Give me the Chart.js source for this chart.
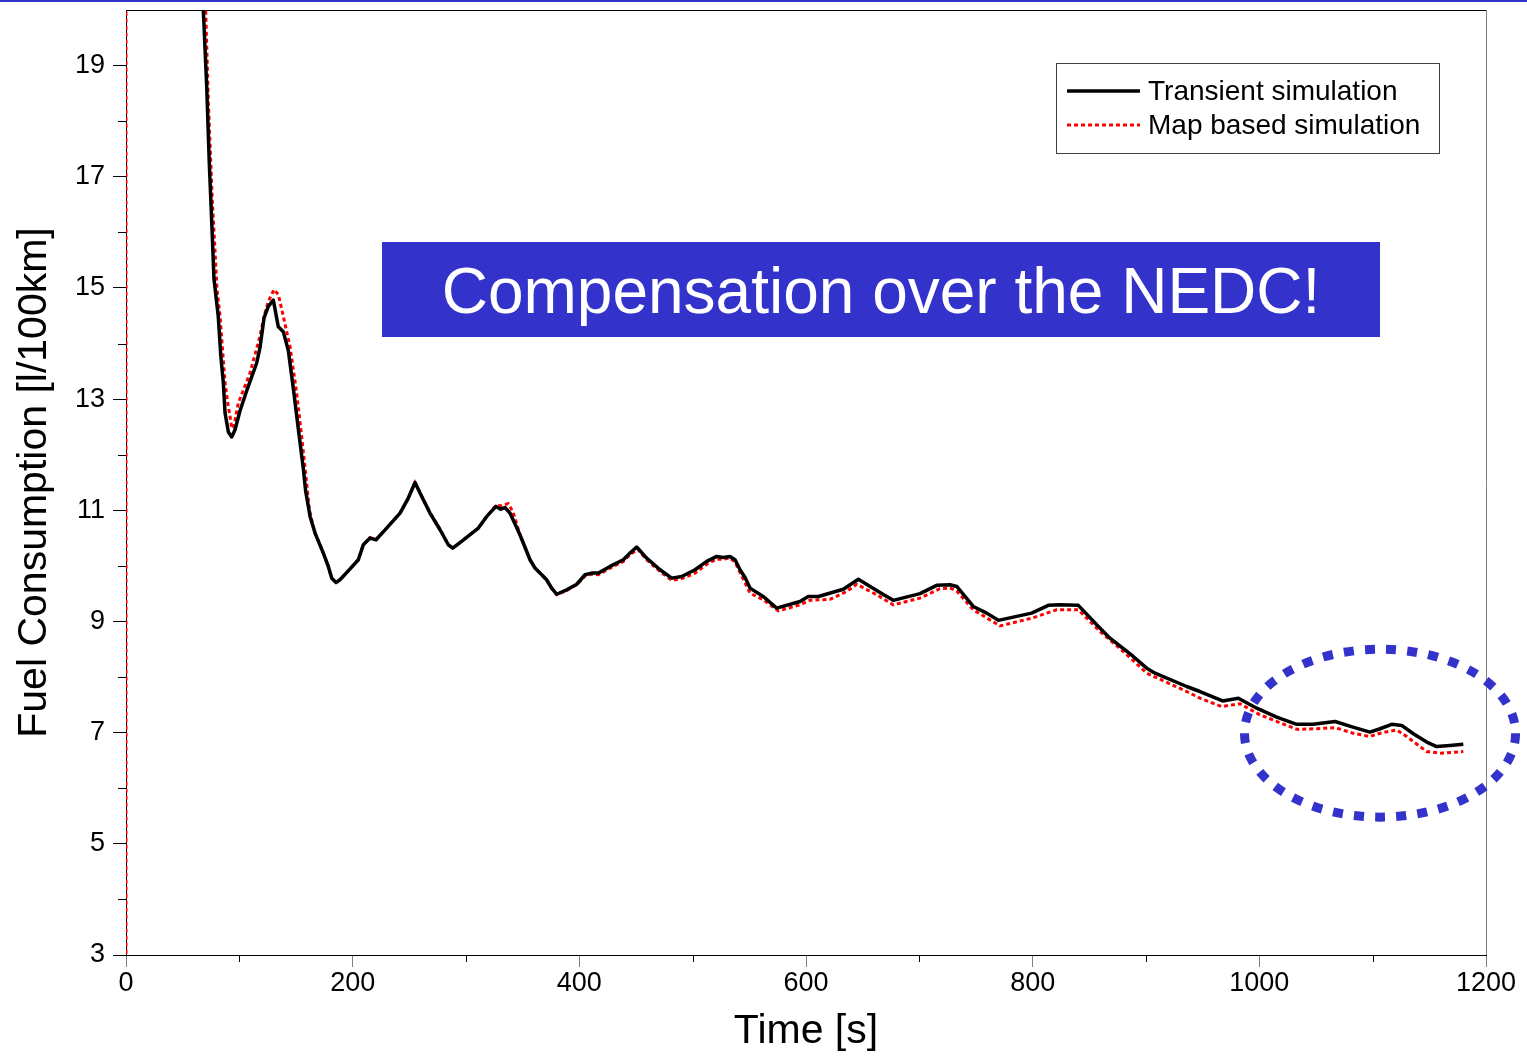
<!DOCTYPE html>
<html>
<head>
<meta charset="utf-8">
<title>Fuel Consumption over the NEDC</title>
<script src="https://cdn.jsdelivr.net/npm/chart.js@4.4.1/dist/chart.umd.min.js"></script>
<style>
  html, body { margin: 0; padding: 0; background: #fff; overflow: hidden; }
  #wrap { position: relative; width: 1527px; height: 1056px; }
</style>
</head>
<body>
<div id="wrap"><canvas id="fuelChart"></canvas></div>
<script>
// ---- Data -------------------------------------------------------------
// Cumulative fuel consumption [l/100km] versus time [s].
const transientTime = [65, 68.2, 71.2, 73.5, 75.6, 77.6, 81.4, 83.6, 85.9, 87.4, 90.3, 93.3, 96.2, 100.6, 106.5, 115.3, 118.2, 121.8, 125.6, 130, 134.4, 138.8, 143.2, 147.6, 152, 156.4, 158.5, 162.4, 166.8, 174.1, 178.5, 181.5, 185.3, 188.8, 196.1, 205, 209.4, 215.3, 220.6, 230, 241.8, 249.1, 255, 260.9, 268.2, 277.1, 284.4, 288.3, 294.7, 310.9, 318.3, 326.5, 330.6, 334.4, 338.8, 347.6, 356.5, 360.9, 371.2, 375.6, 380, 388.9, 397.7, 405, 410.9, 416.7, 427.1, 438.8, 444.7, 450.6, 459.4, 471.2, 481.5, 490.3, 502.1, 512.4, 521.2, 527.1, 532.9, 537.4, 541.8, 546.2, 550.6, 562.3, 574.1, 594.7, 602, 610.9, 632.9, 646.2, 665.3, 677, 700.6, 715.3, 727.1, 733, 747.6, 759.4, 769.7, 799.1, 813.8, 824.1, 840.3, 856.5, 868.2, 888.8, 900.6, 908, 935.9, 947.6, 967.6, 981.5, 997.7, 1015.3, 1033, 1047.4, 1066.8, 1082.6, 1097.6, 1106.5, 1116.8, 1125.6, 1135.9, 1147.7, 1156.5, 1168.2, 1180];
const transientFuel = [21.4, 20.01, 18.63, 17.24, 16.21, 15.17, 14.49, 13.79, 13.29, 12.75, 12.41, 12.32, 12.45, 12.79, 13.15, 13.65, 13.92, 14.46, 14.67, 14.78, 14.30, 14.21, 13.88, 13.20, 12.47, 11.76, 11.35, 10.89, 10.59, 10.23, 9.99, 9.78, 9.70, 9.75, 9.91, 10.11, 10.38, 10.50, 10.47, 10.68, 10.95, 11.22, 11.50, 11.25, 10.95, 10.65, 10.38, 10.32, 10.42, 10.68, 10.89, 11.07, 11.02, 11.05, 10.95, 10.56, 10.11, 9.96, 9.75, 9.60, 9.49, 9.57, 9.67, 9.84, 9.87, 9.87, 9.99, 10.11, 10.23, 10.34, 10.14, 9.93, 9.78, 9.81, 9.93, 10.08, 10.17, 10.15, 10.17, 10.11, 9.93, 9.79, 9.60, 9.45, 9.24, 9.36, 9.45, 9.45, 9.58, 9.76, 9.52, 9.38, 9.50, 9.65, 9.66, 9.63, 9.27, 9.15, 9.02, 9.15, 9.29, 9.30, 9.29, 8.94, 8.70, 8.37, 8.16, 8.07, 7.83, 7.74, 7.57, 7.62, 7.44, 7.28, 7.15, 7.15, 7.20, 7.10, 7.01, 7.07, 7.15, 7.13, 6.98, 6.83, 6.75, 6.77, 6.79];

// The map based run starts with a jump at t = 0 (no distance driven yet).
const mapTime = [0, 0, 67, 70.3, 72.6, 76.1, 78.5, 80.3, 83, 87.4, 90, 91.8, 93.3, 94.9, 99.1, 109.4, 118.2, 122.2, 125.6, 130.6, 134.4, 138.8, 144.7, 150.6, 155, 159.4, 161.9, 166.3, 174.1, 178.5, 181.5, 185.3, 188.8, 196.1, 205, 209.4, 215.3, 220.6, 230, 241.8, 249.1, 255, 260.9, 268.2, 277.1, 284.4, 288.3, 294.7, 310.9, 318.3, 326.5, 330.6, 337.3, 341.5, 347.6, 356.5, 360.9, 371.2, 375.6, 380, 388.9, 397.7, 405, 410.9, 416.7, 427.1, 438.8, 444.7, 451.5, 459.4, 471.2, 481.5, 490.3, 502.1, 512.4, 521.2, 527.1, 532.9, 537.4, 541.8, 550.6, 562.3, 575.6, 594.7, 603.5, 621.2, 635.9, 644.7, 662.4, 677, 700.6, 718.2, 727.1, 733, 747.6, 771.2, 799.1, 821.2, 840.3, 859.4, 880, 900.6, 935.9, 947.6, 966.8, 982.9, 1000.6, 1033, 1050.6, 1066.8, 1082.9, 1097.6, 1106.5, 1121.2, 1130, 1147.7, 1159.4, 1180];
const mapFuel = [0, 40, 21.4, 20.01, 18.39, 16.59, 15.69, 14.97, 14.49, 13.29, 12.90, 12.69, 12.48, 12.48, 12.93, 13.47, 14.13, 14.52, 14.76, 14.97, 14.88, 14.49, 13.95, 13.11, 12.33, 11.49, 11.0, 10.62, 10.23, 9.99, 9.78, 9.70, 9.75, 9.91, 10.11, 10.38, 10.51, 10.47, 10.68, 10.95, 11.22, 11.50, 11.26, 10.96, 10.66, 10.38, 10.32, 10.42, 10.68, 10.89, 11.09, 11.08, 11.12, 10.97, 10.56, 10.11, 9.96, 9.74, 9.59, 9.48, 9.56, 9.66, 9.82, 9.85, 9.84, 9.96, 10.08, 10.20, 10.30, 10.11, 9.90, 9.74, 9.77, 9.87, 10.03, 10.12, 10.12, 10.14, 10.07, 9.88, 9.51, 9.39, 9.19, 9.30, 9.38, 9.40, 9.54, 9.67, 9.48, 9.30, 9.42, 9.59, 9.60, 9.55, 9.21, 8.92, 9.06, 9.21, 9.21, 8.82, 8.46, 8.07, 7.74, 7.62, 7.47, 7.52, 7.32, 7.06, 7.07, 7.09, 6.99, 6.93, 6.99, 7.05, 6.93, 6.66, 6.63, 6.66];

const seriesLabels = ['Transient simulation', 'Map based simulation'];

// Axis ticks: labelled majors and short unlabelled minors.
const xTickValues = [0, 200, 400, 600, 800, 1000, 1200];
const xMinorTicks = [100, 300, 500, 700, 900, 1100];
const yTickValues = [3, 5, 7, 9, 11, 13, 15, 17, 19];
const yMinorTicks = [4, 6, 8, 10, 12, 14, 16, 18];

const bannerText = 'Compensation over the NEDC!';
// Highlighted end region of the cycle (centre and half extents in data units).
const highlight = { t: 1106.5, fuel: 6.99, halfT: 119.6, halfFuel: 1.51 };

// ---- Styling ----------------------------------------------------------
const FONT = '"Liberation Sans", Arial, Helvetica, sans-serif';
const ACCENT = '#3333cc';
Chart.defaults.font.family = FONT;

function toPoints(ts, vs) {
  const n = Math.min(ts.length, vs.length);
  const out = [];
  for (let i = 0; i < n; i++) out.push({ x: ts[i], y: vs[i] });
  return out;
}

const decorations = {
  id: 'decorations',
  beforeDatasetsDraw(chart) {
    const { ctx, chartArea: a, scales: { x, y } } = chart;
    ctx.save();
    ctx.lineWidth = 1;
    // frame: top black, right grey
    ctx.strokeStyle = '#000';
    ctx.beginPath();
    ctx.moveTo(a.left, Math.round(a.top) + 0.5);
    ctx.lineTo(a.right, Math.round(a.top) + 0.5);
    ctx.stroke();
    ctx.strokeStyle = '#808080';
    ctx.beginPath();
    ctx.moveTo(Math.round(a.right) + 0.5, a.top);
    ctx.lineTo(Math.round(a.right) + 0.5, a.bottom);
    ctx.stroke();
    // minor ticks
    ctx.strokeStyle = '#000';
    ctx.beginPath();
    xMinorTicks.forEach(v => {
      const px = Math.round(x.getPixelForValue(v)) + 0.5;
      ctx.moveTo(px, a.bottom);
      ctx.lineTo(px, a.bottom + 7);
    });
    yMinorTicks.forEach(v => {
      const py = Math.round(y.getPixelForValue(v)) + 0.5;
      ctx.moveTo(a.left - 8, py);
      ctx.lineTo(a.left, py);
    });
    ctx.stroke();
    ctx.restore();
  },
  afterDraw(chart) {
    const { ctx, chartArea: a, scales: { x, y }, width } = chart;
    ctx.save();
    // page rule along the top edge
    ctx.fillStyle = ACCENT;
    ctx.fillRect(0, 0, width, 2);

    // legend box
    const lx = a.right - 430, ly = a.top + 53, lw = 383, lh = 90;
    ctx.fillStyle = '#fff';
    ctx.fillRect(lx, ly, lw, lh);
    ctx.strokeStyle = '#404040';
    ctx.lineWidth = 1;
    ctx.strokeRect(lx + 0.5, ly + 0.5, lw, lh);
    chart.data.datasets.forEach((ds, i) => {
      const rowY = ly + 28 + i * 34;
      ctx.save();
      ctx.strokeStyle = ds.borderColor;
      ctx.lineWidth = ds.borderWidth;
      ctx.setLineDash(ds.borderDash || []);
      ctx.beginPath();
      ctx.moveTo(lx + 11, rowY);
      ctx.lineTo(lx + 84, rowY);
      ctx.stroke();
      ctx.restore();
      ctx.fillStyle = '#000';
      ctx.font = '28px ' + FONT;
      ctx.textAlign = 'left';
      ctx.textBaseline = 'middle';
      ctx.fillText(ds.label, lx + 92, rowY + 1);
    });

    // banner
    const bx = a.left + 256, by = a.top + 232, bw = 998, bh = 95;
    ctx.fillStyle = ACCENT;
    ctx.fillRect(bx, by, bw, bh);
    ctx.fillStyle = '#fff';
    ctx.font = '64px ' + FONT;
    ctx.textAlign = 'center';
    ctx.textBaseline = 'alphabetic';
    ctx.fillText(bannerText, bx + bw / 2, by + 71);

    // dotted ellipse around the end of the cycle
    const cx = x.getPixelForValue(highlight.t);
    const cy = y.getPixelForValue(highlight.fuel);
    const rx = Math.abs(x.getPixelForValue(highlight.t + highlight.halfT) - cx);
    const ry = Math.abs(y.getPixelForValue(highlight.fuel + highlight.halfFuel) - cy);
    ctx.strokeStyle = ACCENT;
    ctx.lineWidth = 9;
    ctx.setLineDash([10, 11.2]);
    ctx.beginPath();
    ctx.ellipse(cx, cy, rx, ry, 0, 0, Math.PI * 2);
    ctx.stroke();
    ctx.restore();
  }
};

new Chart(document.getElementById('fuelChart'), {
  type: 'line',
  data: {
    datasets: [
      {
        label: seriesLabels[0],
        data: toPoints(transientTime, transientFuel),
        borderColor: '#000',
        borderWidth: 3.5,
        pointRadius: 0,
        tension: 0,
        borderJoinStyle: 'round',
        fill: false
      },
      {
        label: seriesLabels[1],
        data: toPoints(mapTime, mapFuel),
        borderColor: '#ff0000',
        borderWidth: 3,
        borderDash: [4, 3],
        pointRadius: 0,
        tension: 0,
        fill: false
      }
    ]
  },
  options: {
    responsive: true,
    maintainAspectRatio: false,
    animation: false,
    layout: { padding: { top: 10, right: 41, left: 0, bottom: 0 } },
    plugins: { legend: { display: false }, tooltip: { enabled: false } },
    scales: {
      x: {
        type: 'linear',
        min: 0,
        max: 1200,
        afterBuildTicks: s => { s.ticks = xTickValues.map(v => ({ value: v })); },
        afterFit: s => { s.height = 101; s.paddingLeft = 0; s.paddingRight = 0; },
        grid: { drawOnChartArea: false, drawTicks: true, tickLength: 12, color: '#808080', lineWidth: 1 },
        border: { display: true, color: '#000', width: 1 },
        ticks: { font: { size: 27 }, color: '#000', padding: 0, maxRotation: 0, autoSkip: false,
                 callback: v => String(v) },
        title: { display: true, text: 'Time [s]', font: { size: 41 }, color: '#000', padding: { top: 0, bottom: 0 } }
      },
      y: {
        type: 'linear',
        min: 3,
        max: 20,
        afterBuildTicks: s => { s.ticks = yTickValues.map(v => ({ value: v })); },
        afterFit: s => { s.width = 126; s.paddingTop = 0; s.paddingBottom = 0; },
        grid: { drawOnChartArea: false, drawTicks: true, tickLength: 13, color: '#000', lineWidth: 1 },
        border: { display: true, color: '#000', width: 1 },
        ticks: { font: { size: 27 }, color: '#000', padding: 8, autoSkip: false,
                 callback: v => String(v) },
        title: { display: true, text: 'Fuel Consumption [l/100km]', font: { size: 41 }, color: '#000', padding: { top: 10, bottom: 0 } }
      }
    }
  },
  plugins: [decorations]
});
</script>
</body>
</html>
